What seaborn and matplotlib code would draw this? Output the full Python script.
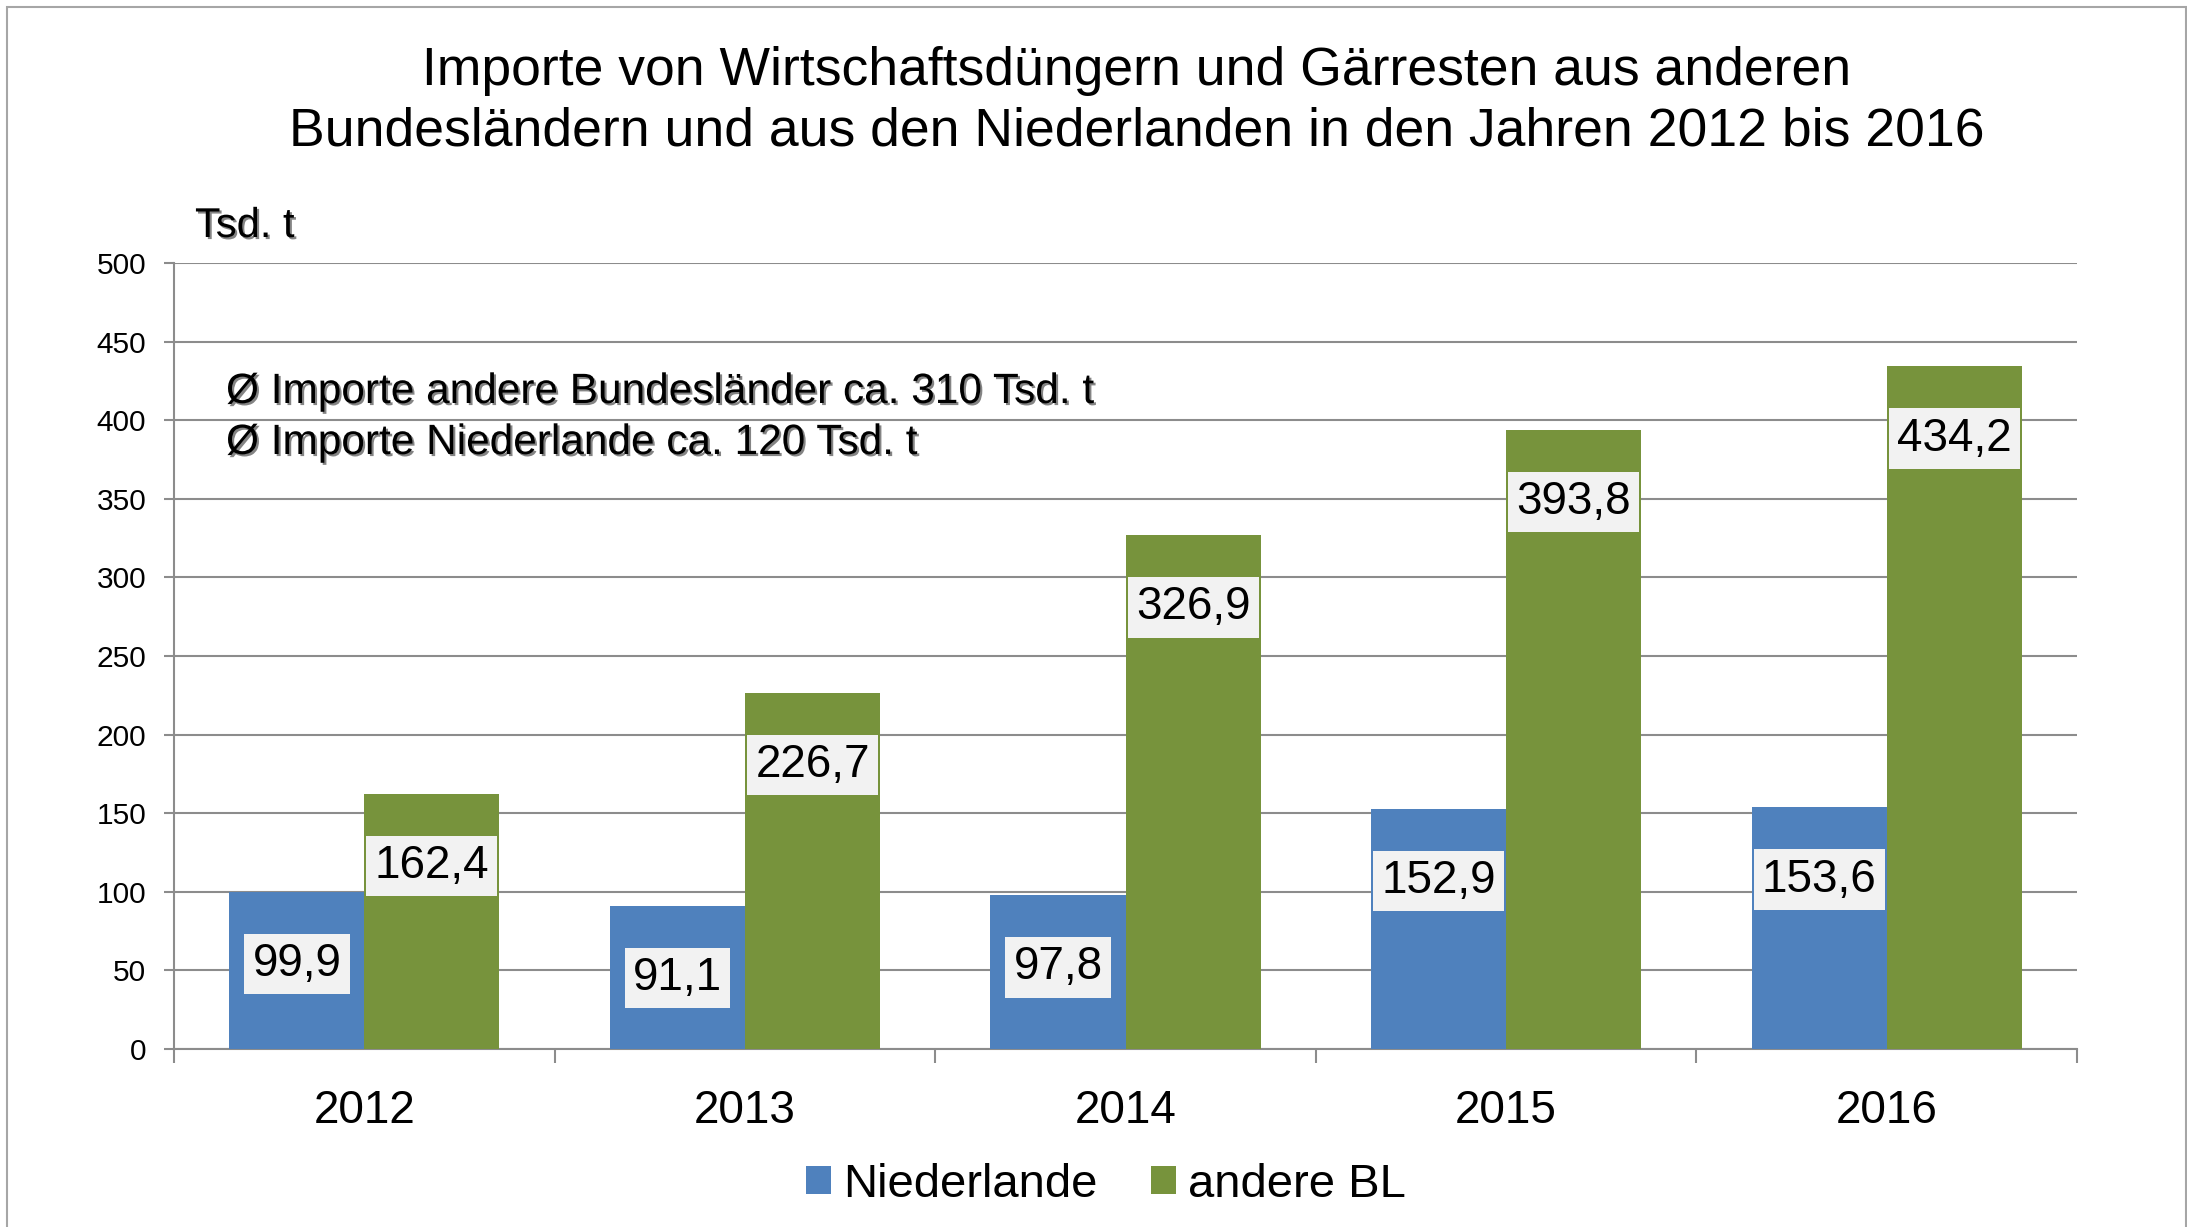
import seaborn as sns
import matplotlib.pyplot as plt
import matplotlib.patheffects as pe
from matplotlib.patches import Rectangle
import pandas as pd

# values (Tsd. t)
years = ['2012', '2013', '2014', '2015', '2016']
niederlande = [99.9, 91.1, 97.8, 152.9, 153.6]
andere_bl = [162.4, 226.7, 326.9, 393.8, 434.2]
series = ['Niederlande', 'andere BL']
colors = ['#4F81BD', '#77933C']

title = ('Importe von Wirtschaftsdüngern und Gärresten aus anderen\n'
         'Bundesländern und aus den Niederlanden in den Jahren 2012 bis 2016')
notes = ['Ø Importe andere Bundesländer ca. 310 Tsd. t',
         'Ø Importe Niederlande ca. 120 Tsd. t']

df = pd.DataFrame({
    'Jahr': years * 2,
    'Wert': niederlande + andere_bl,
    'Reihe': [series[0]] * len(years) + [series[1]] * len(years),
})

sns.set_theme(style='white')
plt.rcParams['font.family'] = ['Liberation Sans', 'DejaVu Sans']
plt.rcParams['text.color'] = 'black'

fig = plt.figure(figsize=(21.87, 12.27), dpi=100)
ax = fig.add_axes([0.0796, 0.1451, 0.8701, 0.6406])

sns.barplot(data=df, x='Jahr', y='Wert', hue='Reihe', palette=colors,
            width=0.71, gap=0, linewidth=0, saturation=1, ax=ax, zorder=3)

ax.set_ylim(0, 500)
ax.set_xlim(-0.5, len(years) - 0.5)
ax.set_yticks(range(0, 501, 50))
ax.set_xlabel('')
ax.set_ylabel('')
ax.yaxis.grid(True, color='#8c8c8c', linewidth=1.5, zorder=0)
ax.set_axisbelow(True)
for side in ['top', 'right']:
    ax.spines[side].set_visible(False)
for side in ['left', 'bottom']:
    ax.spines[side].set_color('#8c8c8c')
    ax.spines[side].set_linewidth(1.5)

ax.tick_params(axis='y', which='major', left=True, length=7, width=1.5,
               color='#8c8c8c', pad=13, labelsize=21.5, labelcolor='black')
ax.tick_params(axis='x', which='major', bottom=False, pad=23,
               labelsize=33, labelcolor='black')
ax.set_xticks([i - 0.5 for i in range(len(years) + 1)], minor=True)
ax.tick_params(axis='x', which='minor', bottom=True, length=10, width=1.5,
               color='#8c8c8c')

# value labels in grey boxes, placed a fixed distance below the bar top
for cont in ax.containers:
    for bar in cont:
        h = bar.get_height()
        ax.annotate(f'{h:.1f}'.replace('.', ','),
                    xy=(bar.get_x() + bar.get_width() / 2, h),
                    xytext=(0, -52), textcoords='offset points',
                    ha='center', va='center', fontsize=33, zorder=5,
                    bbox=dict(boxstyle='square,pad=0.18', fc='#F2F2F2', ec='none'))

shadow = [pe.withSimplePatchShadow(offset=(1.5, -1.5), shadow_rgbFace='#333333', alpha=0.6)]
fig.text(195 / 2187, 1 - 226 / 1227, 'Tsd. t', fontsize=30, va='center',
         ha='left', path_effects=shadow)
fig.text(226 / 2187, 1 - 392 / 1227, notes[0], fontsize=30.5, va='center',
         ha='left', path_effects=shadow)
fig.text(226 / 2187, 1 - 443 / 1227, notes[1], fontsize=30.5, va='center',
         ha='left', path_effects=shadow)

fig.text(1137 / 2187, 1 - 101 / 1227, title, fontsize=38.5, ha='center',
         va='center', linespacing=1.28)

sns.move_legend(ax, 'center', bbox_to_anchor=(1106 / 2187, 1 - 1185 / 1227),
                bbox_transform=fig.transFigure, ncol=2, frameon=False,
                title=None, fontsize=34, handlelength=0.53, handleheight=0.53,
                handletextpad=0.25, columnspacing=1.15)

# outer chart frame
fig.patches.append(Rectangle((7 / 2187, -0.02), 2179 / 2187, 1.02 - 7 / 1227,
                             transform=fig.transFigure, fill=False,
                             edgecolor='#a6a6a6', linewidth=1.5))

fig.savefig('out.png', dpi=100)
